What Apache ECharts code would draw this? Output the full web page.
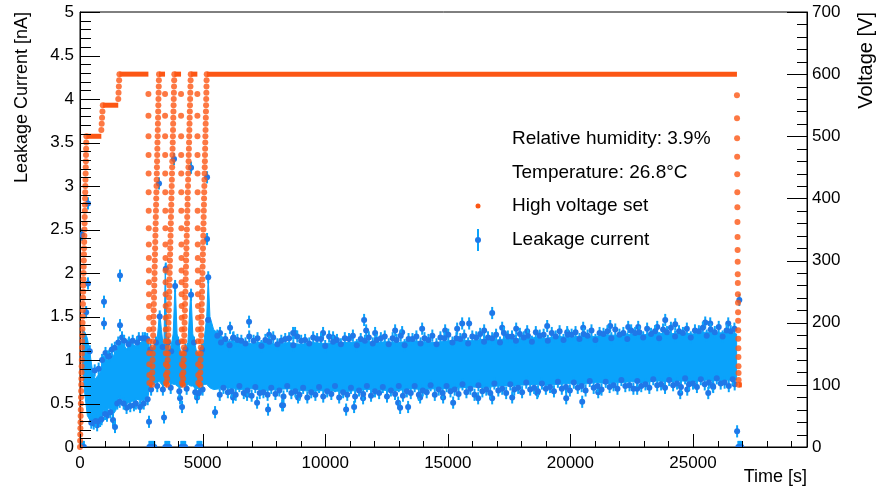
<!DOCTYPE html>
<html>
<head>
<meta charset="utf-8">
<script src="https://cdn.jsdelivr.net/npm/echarts@6/dist/echarts.min.js"></script>
<style>
  html, body { margin: 0; padding: 0; background: #fff; }
  #chart { width: 877px; height: 489px; }
</style>
</head>
<body>
<div id="chart"></div>
<script>
// axis ranges and ticks
const timeRange = [0, 29650];
const currentRange = [0, 5];
const voltageRange = [0, 700];
const timeMajorTicks = [0, 5000, 10000, 15000, 20000, 25000];
const timeMinorTicks = [1000, 2000, 3000, 4000, 6000, 7000, 8000, 9000, 11000, 12000, 13000, 14000,
  16000, 17000, 18000, 19000, 21000, 22000, 23000, 24000, 26000, 27000, 28000, 29000];
const currentMajorTicks = [0, 0.5, 1, 1.5, 2, 2.5, 3, 3.5, 4, 4.5, 5];
const currentMinorTicks = [0.1, 0.2, 0.3, 0.4, 0.6, 0.7, 0.8, 0.9, 1.1, 1.2, 1.3, 1.4, 1.6, 1.7, 1.8, 1.9,
  2.1, 2.2, 2.3, 2.4, 2.6, 2.7, 2.8, 2.9, 3.1, 3.2, 3.3, 3.4, 3.6, 3.7, 3.8, 3.9, 4.1, 4.2, 4.3, 4.4, 4.6, 4.7, 4.8, 4.9];
const voltageMajorTicks = [0, 100, 200, 300, 400, 500, 600, 700];
const voltageMinorTicks = [20, 40, 60, 80, 120, 140, 160, 180, 220, 240, 260, 280, 320, 340, 360, 380,
  420, 440, 460, 480, 520, 540, 560, 580, 620, 640, 660, 680];
const errBar = 0.07;

// leakage current: dense band of readings (lower / upper edge)
const bandTime = [
  100, 200, 300, 420, 520, 620, 720, 820, 900, 960, 1060, 1160, 1260, 1360, 1460, 1560, 1700, 1900, 2100, 2300, 2500, 2700, 2790,
  2820, 2900, 3000, 3150, 3250, 3320, 3420, 3480, 3540, 3650, 3800, 3880, 3960, 4100, 4200, 4400, 4520, 4600, 4750, 4900, 5050, 5170, 5230, 5300,
  5450, 6000, 6500, 7000, 7500, 8000, 8500, 9000, 9500, 10000, 10500, 11000, 11500, 12000, 12500, 13000, 13500, 14000, 14500, 15000, 15500,
  16000, 16500, 17000, 17500, 18000, 18500, 19000, 19500, 20000, 20500, 21000, 21500, 22000, 22500, 23000, 23500, 24000, 24500, 25000, 25500,
  26000, 26500, 26780
];
const bandLow = [
  0.90, 0.60, 0.36, 0.30, 0.29, 0.33, 0.31, 0.35, 0.33, 0.42, 0.40, 0.44, 0.45, 0.38, 0.42, 0.56, 0.55, 0.50, 0.52, 0.55, 0.53, 0.56, 0.60,
  0.70, 0.70, 0.72, 0.75, 0.75, 0.72, 0.70, 0.72, 0.72, 0.74, 0.72, 0.72, 0.70, 0.68, 0.70, 0.72, 0.70, 0.70, 0.66, 0.70, 0.72, 0.72, 0.70, 0.68,
  0.66, 0.68, 0.66, 0.67, 0.65, 0.66, 0.67, 0.65, 0.64, 0.65, 0.64, 0.64, 0.66, 0.66, 0.65, 0.65, 0.67, 0.66, 0.67, 0.67, 0.68,
  0.69, 0.68, 0.70, 0.70, 0.71, 0.72, 0.71, 0.72, 0.73, 0.72, 0.74, 0.73, 0.74, 0.75, 0.74, 0.76, 0.75, 0.76, 0.75, 0.77,
  0.76, 0.77, 0.77
];
const bandHigh = [
  1.35, 1.32, 1.25, 1.05, 0.86, 0.78, 0.82, 0.86, 0.95, 1.05, 1.02, 0.98, 1.08, 1.05, 1.10, 1.16, 1.20, 1.13, 1.18, 1.16, 1.21, 1.22, 1.20,
  1.05, 1.10, 1.15, 1.25, 1.55, 1.35, 1.10, 2.10, 1.20, 1.05, 1.30, 1.90, 1.30, 1.10, 1.05, 1.20, 1.80, 1.30, 1.10, 1.05, 1.20, 1.50, 1.95, 1.50,
  1.35, 1.22, 1.20, 1.19, 1.21, 1.18, 1.20, 1.18, 1.20, 1.19, 1.20, 1.20, 1.22, 1.20, 1.21, 1.20, 1.22, 1.21, 1.20, 1.22, 1.23,
  1.22, 1.24, 1.23, 1.25, 1.24, 1.26, 1.25, 1.27, 1.26, 1.28, 1.27, 1.29, 1.28, 1.30, 1.29, 1.31, 1.30, 1.31, 1.30, 1.32,
  1.31, 1.32, 1.30
];

// leakage current: single readings standing out of the band [time, nA]
const currentPoints = [
  [82, 2.44], [326, 2.80], [326, 1.88], [250, 1.55], [400, 1.10], [560, 0.27], [700, 0.25], [820, 0.30],
  [979, 1.67], [979, 1.42], [1100, 0.36], [1200, 1.05], [1346, 0.31], [1428, 0.23], [1632, 1.97], [1632, 1.40],
  [1714, 1.26], [1900, 0.45], [2000, 1.20], [2200, 0.48], [2400, 1.25], [2450, 0.46], [2650, 1.25],
  [2815, 0.29], [3223, 3.03], [3250, 1.50], [3427, 0.34], [3500, 2.05], [3835, 3.31], [3880, 1.85], [4080, 0.56],
  [4162, 0.46], [4529, 3.21], [4530, 1.75], [4774, 0.57], [4855, 0.62], [5182, 3.10], [5182, 2.39], [5230, 1.95],
  [5222, 1.46], [5712, 1.31], [6120, 1.37], [6242, 1.25], [6895, 1.44], [7711, 1.29], [8690, 1.31], [8772, 1.31],
  [9914, 1.31], [10322, 1.26], [11587, 1.46], [11670, 1.34], [12036, 1.31], [12852, 1.34], [13138, 1.32], [13954, 1.36],
  [14892, 1.34], [15382, 1.36], [15586, 1.42], [15871, 1.42], [16483, 1.34], [16810, 1.54], [17218, 1.37], [17789, 1.36],
  [18238, 1.33], [19054, 1.39], [19870, 1.32], [20522, 1.37], [21624, 1.39], [22358, 1.38], [22766, 1.38], [23542, 1.38],
  [23868, 1.46], [24276, 1.41], [25500, 1.43], [25704, 1.42], [26438, 1.42],
  [5508, 0.40], [6242, 0.57], [6814, 0.60], [7222, 0.51], [7670, 0.43], [8242, 0.48], [8282, 0.48], [8894, 0.57],
  [10853, 0.43], [11179, 0.46], [11546, 0.56], [12974, 0.51], [13056, 0.45], [13382, 0.46], [13872, 0.57], [14810, 0.57],
  [15218, 0.51], [16238, 0.56], [16810, 0.56], [17626, 0.57], [18646, 0.62], [19829, 0.56], [20482, 0.52], [21135, 0.63],
  [22725, 0.67], [24480, 0.62], [24766, 0.66], [25622, 0.62], [25826, 0.69],
  [26890, 1.69], [26800, 0.18]
];
// readings packed along the upper edge of the band [time, nA]
const upperEdgePoints = [
  [600, 0.88], [760, 0.90], [900, 1.00], [1040, 1.08], [1150, 1.04], [1300, 1.12], [1420, 1.14], [1560, 1.20],
  [1800, 1.22], [1980, 1.18], [2150, 1.22], [2330, 1.20], [2560, 1.25], [2740, 1.24],
  [2870, 1.12], [3100, 1.20], [3370, 1.15], [3600, 1.20], [3720, 1.10], [4000, 1.20], [4300, 1.12], [4650, 1.20], [4980, 1.12],
  [5600, 1.28], [5930, 1.24], [6260, 1.26], [6580, 1.22], [6900, 1.27], [7240, 1.25], [7560, 1.23], [7880, 1.26],
  [8210, 1.22], [8530, 1.25], [8860, 1.27], [9180, 1.23], [9510, 1.26], [9830, 1.24], [10160, 1.27], [10480, 1.23],
  [10800, 1.25], [11130, 1.28], [11450, 1.24], [11780, 1.26], [12100, 1.23], [12430, 1.27], [12750, 1.25], [13080, 1.28],
  [13400, 1.24], [13720, 1.27], [14050, 1.25], [14370, 1.28], [14700, 1.26], [15020, 1.29], [15350, 1.25], [15670, 1.28],
  [16000, 1.27], [16320, 1.30], [16640, 1.26], [16970, 1.29], [17290, 1.31], [17620, 1.27], [17940, 1.30], [18270, 1.28],
  [18590, 1.32], [18910, 1.29], [19240, 1.31], [19560, 1.33], [19890, 1.29], [20210, 1.32], [20540, 1.30], [20860, 1.34],
  [21190, 1.31], [21510, 1.33], [21830, 1.35], [22160, 1.31], [22480, 1.34], [22810, 1.32], [23130, 1.36], [23450, 1.33],
  [23780, 1.35], [24100, 1.37], [24430, 1.33], [24750, 1.36], [25080, 1.34], [25400, 1.37], [25720, 1.35], [26050, 1.38],
  [26370, 1.34], [26690, 1.36],
  [5750, 1.20], [6100, 1.17], [6420, 1.23], [6750, 1.19], [7080, 1.22], [7400, 1.16], [7720, 1.21], [8050, 1.18],
  [8370, 1.24], [8700, 1.17], [9020, 1.22], [9350, 1.19], [9670, 1.24], [10000, 1.16], [10320, 1.21], [10640, 1.18],
  [10970, 1.24], [11290, 1.17], [11620, 1.22], [11940, 1.19], [12270, 1.25], [12590, 1.18], [12910, 1.23], [13240, 1.17],
  [13560, 1.24], [13890, 1.19], [14210, 1.23], [14540, 1.18], [14860, 1.25], [15190, 1.20], [15510, 1.24], [15830, 1.19],
  [16160, 1.26], [16480, 1.21], [16810, 1.25], [17130, 1.20], [17450, 1.27], [17780, 1.22], [18100, 1.26], [18430, 1.21],
  [18750, 1.28], [19080, 1.22], [19400, 1.27], [19720, 1.23], [20050, 1.29], [20370, 1.24], [20700, 1.28], [21020, 1.23],
  [21350, 1.30], [21670, 1.25], [22000, 1.29], [22320, 1.24], [22640, 1.31], [22970, 1.26], [23290, 1.30], [23620, 1.25],
  [23940, 1.32], [24270, 1.27], [24590, 1.31], [24910, 1.26], [25240, 1.33], [25560, 1.28], [25890, 1.32], [26210, 1.27],
  [26540, 1.33]
];
// readings packed along the lower edge of the band [time, nA]
const lowerEdgePoints = [
  [460, 0.28], [640, 0.30], [880, 0.32], [1020, 0.38], [1240, 0.40], [1520, 0.50], [1620, 0.52], [1780, 0.50],
  [2050, 0.47], [2280, 0.50], [2600, 0.50], [2760, 0.55],
  [2900, 0.66], [3150, 0.70], [3380, 0.66], [3700, 0.68], [4050, 0.64], [4350, 0.67], [4700, 0.63], [5000, 0.66],
  [5700, 0.60], [6030, 0.63], [6350, 0.60], [6680, 0.62], [7000, 0.59], [7330, 0.62], [7650, 0.60], [7970, 0.61],
  [8300, 0.58], [8620, 0.62], [8950, 0.60], [9270, 0.57], [9600, 0.60], [9920, 0.58], [10250, 0.61], [10570, 0.57],
  [10900, 0.60], [11220, 0.58], [11550, 0.61], [11870, 0.59], [12200, 0.62], [12520, 0.58], [12850, 0.61], [13170, 0.59],
  [13490, 0.62], [13820, 0.60], [14140, 0.63], [14470, 0.60], [14790, 0.62], [15110, 0.64], [15440, 0.61], [15760, 0.63],
  [16090, 0.60], [16410, 0.64], [16730, 0.62], [17060, 0.65], [17380, 0.62], [17710, 0.66], [18030, 0.63], [18360, 0.66],
  [18680, 0.64], [19000, 0.67], [19330, 0.64], [19650, 0.67], [19980, 0.65], [20300, 0.68], [20620, 0.65], [20950, 0.68],
  [21270, 0.66], [21600, 0.69], [21920, 0.67], [22240, 0.70], [22570, 0.67], [22890, 0.70], [23220, 0.68], [23540, 0.71],
  [23860, 0.68], [24190, 0.71], [24510, 0.69], [24840, 0.72], [25160, 0.69], [25480, 0.72], [25810, 0.70], [26130, 0.73],
  [26460, 0.70], [26700, 0.72],
  [5850, 0.68], [6180, 0.64], [6500, 0.70], [6830, 0.65], [7150, 0.69], [7480, 0.63], [7800, 0.68], [8130, 0.65],
  [8450, 0.70], [8780, 0.64], [9100, 0.68], [9430, 0.63], [9750, 0.69], [10080, 0.64], [10400, 0.70], [10730, 0.63],
  [11050, 0.68], [11380, 0.65], [11700, 0.70], [12030, 0.64], [12350, 0.69], [12680, 0.65], [13000, 0.70], [13330, 0.64],
  [13650, 0.70], [13980, 0.65], [14300, 0.71], [14630, 0.66], [14950, 0.70], [15280, 0.66], [15600, 0.72], [15920, 0.67],
  [16250, 0.71], [16570, 0.66], [16900, 0.73], [17220, 0.67], [17550, 0.72], [17870, 0.68], [18200, 0.74], [18520, 0.68],
  [18840, 0.73], [19170, 0.69], [19490, 0.75], [19820, 0.69], [20140, 0.74], [20460, 0.70], [20790, 0.76], [21110, 0.70],
  [21440, 0.75], [21760, 0.71], [22080, 0.77], [22410, 0.71], [22730, 0.76], [23060, 0.72], [23380, 0.78], [23700, 0.72],
  [24030, 0.77], [24350, 0.73], [24680, 0.79], [25000, 0.73], [25320, 0.78], [25650, 0.74], [25970, 0.79], [26290, 0.74],
  [26620, 0.78]
];
// readings of 0 nA while the voltage was switched
const zeroTimes = [
  0, 40, 80, 120, 160,
  2830, 2870, 2910, 2950, 2990, 3030,
  3480, 3520, 3560, 3600, 3640,
  4130, 4170, 4210, 4250, 4290,
  4790, 4830, 4870, 4910, 4950,
  26850, 26890, 26930, 26970
];

// high voltage set: ramps drawn as single dots
const firstRampVolts = [0, 10, 20, 30, 40, 50, 60, 70, 80, 90, 100, 110, 120, 130, 140, 150, 160, 170, 180, 190, 200,
  210, 220, 230, 240, 250, 260, 270, 280, 290, 300, 310, 320, 330, 340, 350, 360, 370, 380, 390, 400,
  410, 420, 430, 440, 450, 460, 470, 480, 490, 500];
const firstRampTimes = [0, 5, 10, 16, 21, 26, 31, 36, 42, 47, 52, 57, 62, 68, 73, 78, 83, 88, 94, 99, 104,
  109, 114, 120, 125, 130, 135, 140, 146, 151, 156, 161, 166, 172, 177, 182, 187, 192, 198, 203, 208,
  213, 218, 224, 229, 234, 239, 244, 250, 255, 260];
const stepVolts = [510, 520, 530, 540, 550, 560, 570, 580, 590, 600];
const stepTimes = [870, 885, 900, 915, 930, 1560, 1572, 1584, 1596, 1608];

const rampUpVolts = [100, 110, 120, 130, 140, 150, 160, 170, 180, 190, 200, 210, 220, 230, 240, 250, 260, 270, 280, 290, 300,
  310, 320, 330, 340, 350, 360, 370, 380, 390, 400, 410, 420, 430, 440, 450, 460, 470, 480, 490, 500,
  510, 520, 530, 540, 550, 560, 570, 580, 590, 600];
const rampUpTimes1 = [2938, 2944, 2949, 2955, 2961, 2967, 2972, 2978, 2984, 2989, 2995, 3001, 3006, 3012, 3018, 3024, 3029,
  3035, 3041, 3046, 3052, 3058, 3063, 3069, 3075, 3081, 3086, 3092, 3098, 3103, 3109, 3115, 3120, 3126, 3132, 3138,
  3143, 3149, 3155, 3160, 3166, 3172, 3177, 3183, 3189, 3195, 3200, 3206, 3212, 3217, 3223];
const rampUpTimes2 = [3550, 3556, 3562, 3568, 3574, 3580, 3586, 3592, 3598, 3603, 3609, 3615, 3621, 3627, 3633, 3639, 3645,
  3651, 3657, 3663, 3669, 3675, 3681, 3687, 3693, 3699, 3704, 3710, 3716, 3722, 3728, 3734, 3740, 3746, 3752, 3758,
  3764, 3770, 3776, 3782, 3788, 3794, 3799, 3805, 3811, 3817, 3823, 3829, 3835, 3841, 3847];
const rampUpTimes3 = [4202, 4208, 4215, 4221, 4227, 4234, 4240, 4246, 4252, 4259, 4265, 4271, 4278, 4284, 4290, 4297, 4303,
  4309, 4315, 4322, 4328, 4334, 4341, 4347, 4353, 4360, 4366, 4372, 4378, 4385, 4391, 4397, 4404, 4410, 4416, 4423,
  4429, 4435, 4441, 4448, 4454, 4460, 4467, 4473, 4479, 4486, 4492, 4498, 4504, 4511, 4517];
const rampUpTimes4 = [4896, 4901, 4907, 4912, 4918, 4923, 4929, 4934, 4940, 4945, 4951, 4956, 4962, 4967, 4972, 4978, 4983,
  4989, 4994, 5000, 5005, 5011, 5016, 5022, 5027, 5033, 5038, 5043, 5049, 5054, 5060, 5065, 5071, 5076, 5082, 5087,
  5093, 5098, 5103, 5109, 5114, 5120, 5125, 5131, 5136, 5142, 5147, 5153, 5158, 5163, 5169];

const rampDownVolts = [568, 533, 500, 470, 440, 410, 380, 352, 326, 304, 284, 265, 246, 227, 208, 189, 170, 151, 133, 116, 103];
const rampDownTimes1 = [2790, 2792, 2794, 2796, 2798, 2800, 2802, 2804, 2806, 2808, 2810, 2812, 2814, 2816, 2818, 2820, 2822, 2824, 2826, 2828, 2830];
const rampDownTimes2 = [3468, 3470, 3472, 3474, 3476, 3478, 3480, 3482, 3484, 3486, 3488, 3490, 3492, 3494, 3496, 3498, 3500, 3502, 3504, 3506, 3508];
const rampDownTimes3 = [4121, 4123, 4125, 4127, 4129, 4131, 4133, 4135, 4137, 4139, 4141, 4143, 4145, 4147, 4149, 4151, 4153, 4155, 4157, 4159, 4161];
const rampDownTimes4 = [4786, 4788, 4790, 4792, 4794, 4796, 4798, 4800, 4802, 4804, 4806, 4808, 4810, 4812, 4814, 4816, 4818, 4820, 4822, 4824, 4826];
const lastDownVolts = [566, 529, 497, 467, 439, 410, 386, 362, 338, 317, 298, 278, 264, 246, 232, 217, 203, 188, 174, 159, 145, 130, 119, 108, 100];
const lastDownTimes = [26793, 26796, 26799, 26802, 26805, 26808, 26811, 26814, 26817, 26820, 26823, 26826, 26829, 26832, 26835,
  26838, 26841, 26844, 26847, 26850, 26853, 26856, 26859, 26862, 26865];

// high voltage set: plateaus [from, to, V]
const voltageFlats = [
  [260, 870, 500], [930, 1560, 550], [1608, 2790, 600],
  [2830, 2938, 100], [3223, 3468, 600], [3508, 3550, 100], [3847, 4121, 600],
  [4161, 4202, 100], [4517, 4786, 600], [4826, 4896, 100], [5169, 26793, 600],
  [26865, 26990, 100]
];

const FONT = '"Liberation Sans", Arial, Helvetica, sans-serif';
const ORANGE = '#fc5614';
const BAND = '#0aa3fb';
const MARK = '#1f78e8';

const pairs = (times, vals) => times.map((t, i) => [t, vals[i]]);
const voltageDots = [].concat(
  pairs(firstRampTimes, firstRampVolts),
  pairs(stepTimes, stepVolts),
  pairs(rampUpTimes1, rampUpVolts), pairs(rampUpTimes2, rampUpVolts),
  pairs(rampUpTimes3, rampUpVolts), pairs(rampUpTimes4, rampUpVolts),
  pairs(rampDownTimes1, rampDownVolts), pairs(rampDownTimes2, rampDownVolts),
  pairs(rampDownTimes3, rampDownVolts), pairs(rampDownTimes4, rampDownVolts),
  pairs(lastDownTimes, lastDownVolts)
);
const currentAll = currentPoints.concat(upperEdgePoints, lowerEdgePoints, zeroTimes.map((t) => [t, 0]));

const chart = echarts.init(document.getElementById('chart'));

const axisLineStyle = { color: '#000', width: 1 };
const labelStyle = { color: '#000', fontSize: 17, fontFamily: FONT };
const crisp = (v) => Math.round(v) + 0.5;

// ROOT style ticks pointing into the frame
function tickSeries(data, yAxisIndex, dir, len) {
  return {
    type: 'custom',
    xAxisIndex: 0, yAxisIndex: yAxisIndex,
    clip: false, silent: true, z: 10,
    data: data,
    renderItem: (params, api) => {
      const p = api.coord([api.value(0), api.value(1)]);
      let x1 = p[0], y1 = p[1], x2 = p[0], y2 = p[1];
      if (dir === 'up') { x1 = x2 = crisp(p[0]); y2 = p[1] - len; }
      if (dir === 'right') { y1 = y2 = crisp(p[1]); x2 = p[0] + len; }
      if (dir === 'left') { y1 = y2 = crisp(p[1]); x2 = p[0] - len; }
      return { type: 'line', shape: { x1, y1, x2, y2 }, style: { stroke: '#000', lineWidth: 1 } };
    }
  };
}

const option = {
  animation: false,
  backgroundColor: '#fff',
  textStyle: { fontFamily: FONT },
  grid: {
    left: 80, right: 70, top: 12, bottom: 42,
    show: true, borderColor: '#000', borderWidth: 1,
    outerBoundsMode: 'none'
  },
  xAxis: {
    type: 'value', min: timeRange[0], max: timeRange[1], interval: 5000,
    axisLine: { show: true, lineStyle: axisLineStyle },
    axisTick: { show: false },
    axisLabel: { ...labelStyle, margin: 8, showMaxLabel: false, formatter: (v) => String(v) },
    splitLine: { show: false }
  },
  yAxis: [
    {
      type: 'value', min: currentRange[0], max: currentRange[1], interval: 0.5,
      axisLine: { show: true, lineStyle: axisLineStyle },
      axisTick: { show: false },
      axisLabel: { ...labelStyle, margin: 6, formatter: (v) => String(v) },
      splitLine: { show: false }
    },
    {
      type: 'value', position: 'right', min: voltageRange[0], max: voltageRange[1], interval: 100,
      axisLine: { show: true, lineStyle: axisLineStyle },
      axisTick: { show: false },
      axisLabel: { ...labelStyle, margin: 5, formatter: (v) => String(v) },
      splitLine: { show: false }
    }
  ],
  series: [
    {
      // dense band of leakage current readings
      name: 'Leakage current band',
      type: 'custom',
      xAxisIndex: 0, yAxisIndex: 0,
      clip: true, silent: true, z: 1,
      data: [[bandTime[0], bandLow[0]]],
      renderItem: (params, api) => {
        const pts = [];
        for (let i = 0; i < bandTime.length; i++) pts.push(api.coord([bandTime[i], bandHigh[i]]));
        for (let i = bandTime.length - 1; i >= 0; i--) pts.push(api.coord([bandTime[i], bandLow[i]]));
        return { type: 'polygon', shape: { points: pts }, style: { fill: BAND, stroke: BAND, lineWidth: 1 } };
      }
    },
    {
      name: 'Leakage current',
      type: 'custom',
      xAxisIndex: 0, yAxisIndex: 0,
      clip: true, silent: true, z: 2,
      data: currentAll,
      renderItem: (params, api) => {
        const t = api.value(0), v = api.value(1);
        const c = api.coord([t, v]);
        const hi = api.coord([t, v + errBar]);
        const lo = api.coord([t, Math.max(v - errBar, -errBar)]);
        return {
          type: 'group',
          children: [
            { type: 'line', shape: { x1: c[0], y1: hi[1], x2: c[0], y2: lo[1] }, style: { stroke: BAND, lineWidth: 2 } },
            { type: 'circle', shape: { cx: c[0], cy: c[1], r: 3 }, style: { fill: MARK } }
          ]
        };
      }
    },
    {
      name: 'High voltage plateaus',
      type: 'custom',
      xAxisIndex: 0, yAxisIndex: 1,
      clip: true, silent: true, z: 3,
      data: voltageFlats,
      renderItem: (params, api) => {
        const a = api.coord([api.value(0), api.value(2)]);
        const b = api.coord([api.value(1), api.value(2)]);
        return { type: 'line', shape: { x1: a[0], y1: a[1], x2: b[0], y2: b[1] }, style: { stroke: ORANGE, lineWidth: 5 } };
      }
    },
    {
      name: 'High voltage set',
      type: 'scatter',
      xAxisIndex: 0, yAxisIndex: 1,
      symbol: 'circle', symbolSize: 6,
      itemStyle: { color: ORANGE },
      silent: true, z: 4,
      data: voltageDots
    },
    tickSeries(timeMajorTicks.map((t) => [t, currentRange[0]]), 0, 'up', 13),
    tickSeries(timeMinorTicks.map((t) => [t, currentRange[0]]), 0, 'up', 6),
    tickSeries(currentMajorTicks.map((v) => [timeRange[0], v]), 0, 'right', 20),
    tickSeries(currentMinorTicks.map((v) => [timeRange[0], v]), 0, 'right', 11),
    tickSeries(voltageMajorTicks.map((v) => [timeRange[1], v]), 1, 'left', 20),
    tickSeries(voltageMinorTicks.map((v) => [timeRange[1], v]), 1, 'left', 10)
  ],
  graphic: [
    { type: 'text', x: 22, y: 12, rotation: Math.PI / 2,
      style: { text: 'Leakage Current [nA]', font: '18px ' + FONT, fill: '#000', align: 'right', verticalAlign: 'middle' } },
    { type: 'text', x: 866, y: 12, rotation: Math.PI / 2,
      style: { text: 'Voltage [V]', font: '20px ' + FONT, fill: '#000', align: 'right', verticalAlign: 'middle' } },
    { type: 'text', x: 807, y: 477,
      style: { text: 'Time [s]', font: '18px ' + FONT, fill: '#000', align: 'right', verticalAlign: 'middle' } },
    { type: 'text', x: 512, y: 139,
      style: { text: 'Relative humidity: 3.9%', font: '19px ' + FONT, fill: '#000', align: 'left', verticalAlign: 'middle' } },
    { type: 'text', x: 512, y: 173,
      style: { text: 'Temperature: 26.8\u00B0C', font: '19px ' + FONT, fill: '#000', align: 'left', verticalAlign: 'middle' } },
    { type: 'circle', shape: { cx: 478, cy: 206, r: 2.5 }, style: { fill: ORANGE } },
    { type: 'text', x: 512, y: 206,
      style: { text: 'High voltage set', font: '19px ' + FONT, fill: '#000', align: 'left', verticalAlign: 'middle' } },
    { type: 'line', shape: { x1: 478, y1: 229, x2: 478, y2: 251 }, style: { stroke: BAND, lineWidth: 2 } },
    { type: 'circle', shape: { cx: 478, cy: 240, r: 3 }, style: { fill: MARK } },
    { type: 'text', x: 512, y: 240,
      style: { text: 'Leakage current', font: '19px ' + FONT, fill: '#000', align: 'left', verticalAlign: 'middle' } }
  ]
};

chart.setOption(option);
</script>
</body>
</html>
